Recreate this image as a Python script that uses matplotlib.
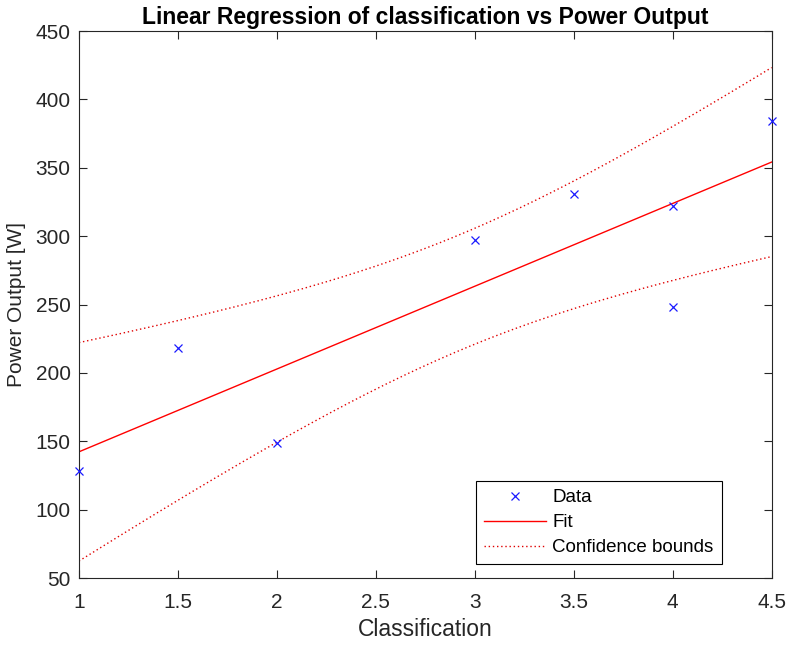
import numpy as np
import matplotlib
matplotlib.use('Agg')
import matplotlib.pyplot as plt

# data
classification = np.array([1.0, 1.5, 2.0, 3.0, 3.5, 4.0, 4.0, 4.5])
power_output = np.array([128, 218, 149, 297, 331, 322, 248, 384])

x_ticks = [1, 1.5, 2, 2.5, 3, 3.5, 4, 4.5]
x_tick_labels = ['1', '1.5', '2', '2.5', '3', '3.5', '4', '4.5']
y_ticks = [50, 100, 150, 200, 250, 300, 350, 400, 450]

# t value for 95% interval with n-2 = 6 dof
T_VAL = 2.4469


def main():
    plt.rcParams['font.family'] = ['Liberation Sans', 'DejaVu Sans']

    fig = plt.figure(figsize=(7.89, 6.46), dpi=100)
    ax = fig.add_axes([0.100, 0.105, 0.878, 0.847])

    # linear regression with confidence bounds on the mean
    slope, intercept = np.polyfit(classification, power_output, 1)
    xs = np.linspace(classification.min(), classification.max(), 200)
    fit = slope * xs + intercept
    n = len(classification)
    resid = power_output - (slope * classification + intercept)
    s = np.sqrt(np.sum(resid ** 2) / (n - 2))
    xm = classification.mean()
    sxx = np.sum((classification - xm) ** 2)
    half = T_VAL * s * np.sqrt(1.0 / n + (xs - xm) ** 2 / sxx)

    ax.plot(classification, power_output, 'x', color='#1a1aff', markersize=6,
            markeredgewidth=0.9, label='Data', clip_on=False, zorder=5)
    ax.plot(xs, fit, '-', color='#ff0000', linewidth=1.0, label='Fit')
    ax.plot(xs, fit + half, linestyle=(0, (1, 2)), color='#e00000',
            linewidth=1.0, label='Confidence bounds')
    ax.plot(xs, fit - half, linestyle=(0, (1, 2)), color='#e00000',
            linewidth=1.0)

    ax.set_xlim(1, 4.5)
    ax.set_ylim(50, 450)
    ax.set_xticks(x_ticks)
    ax.set_xticklabels(x_tick_labels)
    ax.set_yticks(y_ticks)

    axis_col = '#262626'
    for sp in ax.spines.values():
        sp.set_color(axis_col)
        sp.set_linewidth(0.8)
    ax.tick_params(direction='in', top=True, right=True, length=6,
                   width=0.8, color=axis_col, labelcolor=axis_col,
                   labelsize=15)
    ax.tick_params(axis='x', pad=11)
    ax.tick_params(axis='y', pad=6)

    ax.set_xlabel('Classification', fontsize=16.5, color=axis_col, labelpad=4)
    ax.set_ylabel('Power Output [W]', fontsize=15, color=axis_col, labelpad=7)
    ax.set_title('Linear Regression of classification vs Power Output',
                 fontsize=16.5, fontweight='bold', color='black', pad=5)

    leg = ax.legend(loc='lower left', bbox_to_anchor=(0.603, 0.127),
                    bbox_transform=fig.transFigure, borderaxespad=0,
                    fancybox=False, framealpha=1, edgecolor='black',
                    fontsize=13.5, handlelength=3.3, borderpad=0.42,
                    labelspacing=0.42, handletextpad=0.37)
    leg.get_frame().set_linewidth(0.8)

    fig.savefig('out.png', dpi=100, facecolor='white')


if __name__ == "__main__":
    main()
